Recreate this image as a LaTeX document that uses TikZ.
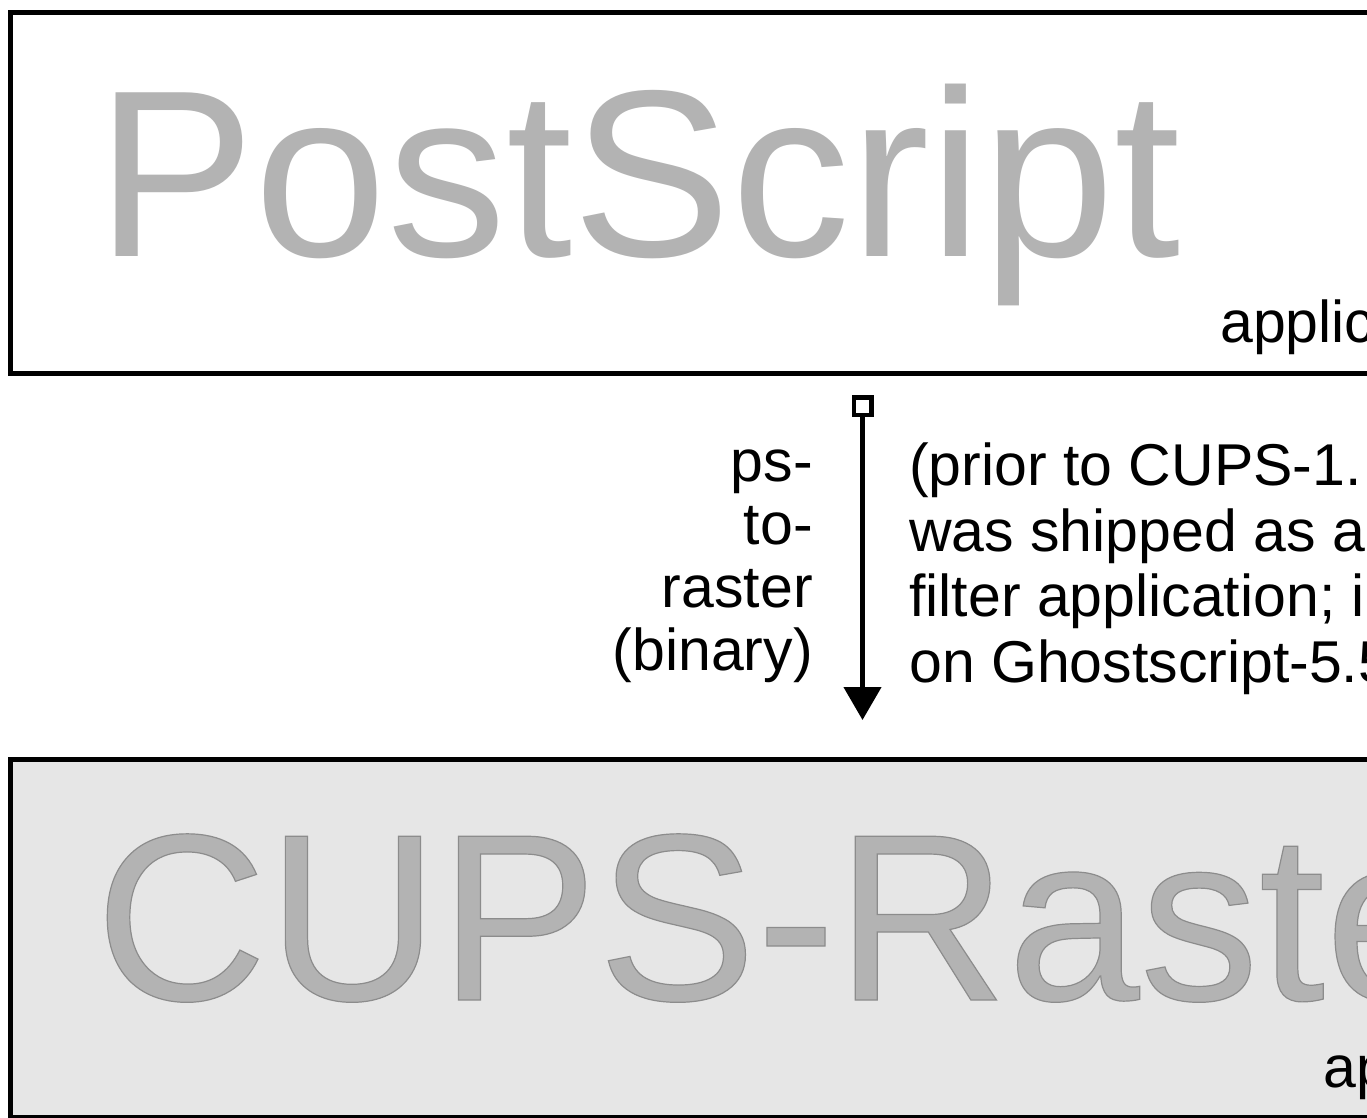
\documentclass[tikz,border=0pt]{standalone}
\usepackage{fontspec}
\setmainfont{Liberation Sans}
\usetikzlibrary{arrows.meta}
\definecolor{bigtext}{RGB}{179,179,179}
\definecolor{rasterbg}{RGB}{230,230,230}
\tikzset{
  formatbox/.style={draw=black, line width=5pt, inner sep=0pt, anchor=north west,
    minimum width=1500pt, minimum height=#1},
  bigword/.style={inner sep=0pt, anchor=base west, text=bigtext,
    font=\fontsize{238}{260}\selectfont},
  mimelabel/.style={inner sep=0pt, anchor=base west, font=\fontsize{59}{65}\selectfont},
  filterlabel/.style={inner sep=0pt},
  flow/.style={line width=4.5pt, {Square[open,length=22pt,width=22pt]}-{Triangle[length=33pt,width=37pt]}}
}
\begin{document}
\begin{tikzpicture}[x=1pt,y=-1pt]
\useasboundingbox (0,0) rectangle (1367,1117);
\clip (0,0) rectangle (1367,1117);
\fill[white] (0,0) rectangle (1367,1117);
% boxes
\node[formatbox=361pt] (psbox) at (8,10) {};
\node[formatbox=358pt, fill=rasterbg] (rasterbox) at (8,757) {};
% big words
\node[bigword] (psword) at (96,256) {PostScript};
\node[bigword] (rasterword) at (95,1000)
  {\special{pdf:literal direct 2 Tr 1.2 w 0.55 G}CUPS-Raste\special{pdf:literal direct 0 Tr}};
% mime labels
\node[mimelabel] (psmime) at (1220,342) {applic};
\node[mimelabel] (rastermime) at (1323,1087) {ap};
% connector
\coordinate (flowstart) at (862.5,395);
\coordinate (flowend) at (862.5,720);
\draw[flow] (flowstart) -- (flowend);
% filter labels (base anchor = last line)
\node[filterlabel, align=right, anchor=base east, font=\fontsize{59}{63}\selectfont]
  (filtername) at (813,670) {ps-\\to-\\raster\\(binary)};
\node[filterlabel, align=left, anchor=base west, font=\fontsize{59}{65.5}\selectfont]
  (filternote) at (909,682)
  {(prior to CUPS-1.\\was shipped as a\\filter application; i\\on Ghostscript-5.5};
\end{tikzpicture}
\end{document}
